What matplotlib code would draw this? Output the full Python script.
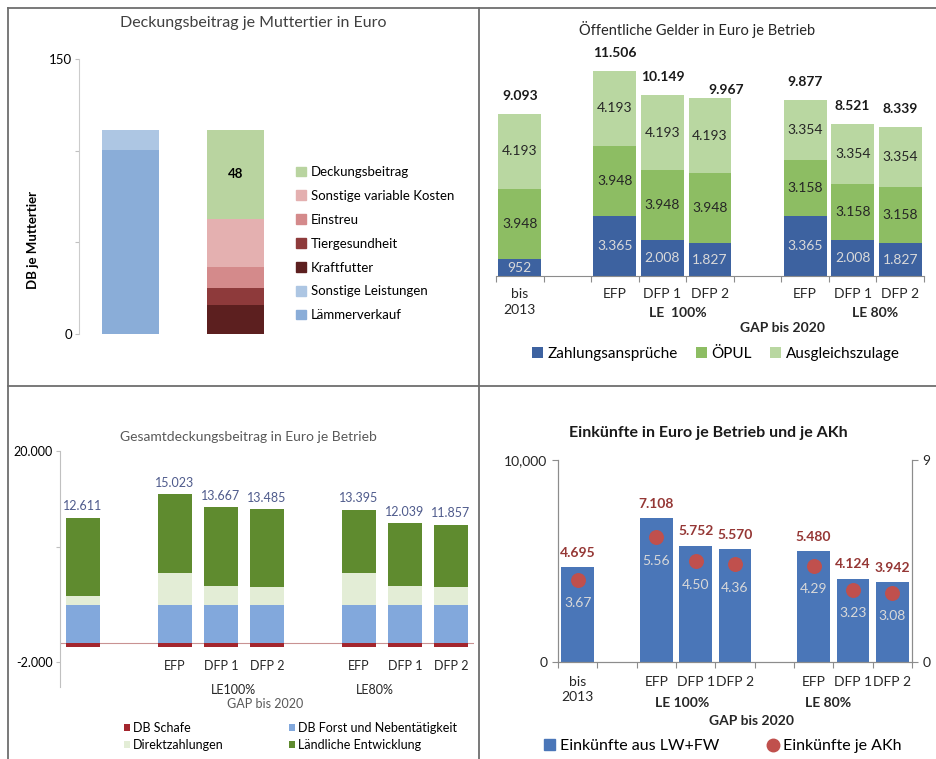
import numpy as np
import matplotlib.pyplot as plt
from matplotlib.patches import Patch
from matplotlib.lines import Line2D

plt.rcParams['font.family'] = ['Lato', 'DejaVu Sans']

W, H = 937, 759

# ---- Daten ----
# Panel 1: Deckungsbeitrag je Muttertier
db_bars = [0, 1]
laemmerverkauf = [100.5, 0]
sonstige_leistungen = [10.5, 0]
kraftfutter = [0, 16]
tiergesundheit = [0, 9]
einstreu = [0, 11.5]
sonstige_var_kosten = [0, 26.5]
deckungsbeitrag = [0, 48]

# Szenarien (gemeinsam für Panel 2-4)
slot_pos = [0, 2, 3, 4, 6, 7, 8]
slot_labels = ['bis\n2013', 'EFP', 'DFP 1', 'DFP 2', 'EFP', 'DFP 1', 'DFP 2']

# Panel 2: Öffentliche Gelder
zahlungsansprueche = [952, 3365, 2008, 1827, 3365, 2008, 1827]
oepul = [3948, 3948, 3948, 3948, 3158, 3158, 3158]
ausgleichszulage = [4193, 4193, 4193, 4193, 3354, 3354, 3354]
summe_oeff = [9093, 11506, 10149, 9967, 9877, 8521, 8339]

# Panel 3: Gesamtdeckungsbeitrag
db_schafe = [-450, -450, -450, -450, -450, -450, -450]
db_forst = [3968, 3968, 3968, 3968, 3968, 3968, 3968]
direktzahlungen = [952, 3365, 2008, 1827, 3365, 2008, 1827]
laendliche_entw = [8141, 8141, 8141, 8141, 6512, 6512, 6512]
gesamt_db = [12611, 15023, 13667, 13485, 13395, 12039, 11857]

# Panel 4: Einkünfte
einkuenfte = [4695, 7108, 5752, 5570, 5480, 4124, 3942]
einkuenfte_akh = [3.67, 5.56, 4.50, 4.36, 4.29, 3.23, 3.08]


def de(v):
    return f"{v:,}".replace(',', '.')


def box(x0, y0, x1, y1):
    return [x0 / W, 1 - y1 / H, (x1 - x0) / W, (y1 - y0) / H]


def ftext(x, y, s, **kw):
    kw.setdefault('ha', 'center')
    kw.setdefault('va', 'center')
    return fig.text(x / W, 1 - y / H, s, **kw)


fig = plt.figure(figsize=(W / 100, H / 100), dpi=100)

# Rahmenlinien
lc = '#6e6e6e'
for (x0, y0, x1, y1) in [(8, 8, 937, 8), (8, 8, 8, 759), (479, 8, 479, 759), (8, 386, 937, 386)]:
    fig.add_artist(Line2D([x0 / W, x1 / W], [1 - y0 / H, 1 - y1 / H], color=lc, lw=1.3))

# ================= Panel 1 =================
ax1 = fig.add_axes(box(79, 59, 290, 334))
series1 = [
    (laemmerverkauf, '#8aadd8', 'Lämmerverkauf'),
    (sonstige_leistungen, '#adc6e3', 'Sonstige Leistungen'),
    (kraftfutter, '#5c1f1f', 'Kraftfutter'),
    (tiergesundheit, '#8e3a3b', 'Tiergesundheit'),
    (einstreu, '#d48a8b', 'Einstreu'),
    (sonstige_var_kosten, '#e4b0b0', 'Sonstige variable Kosten'),
    (deckungsbeitrag, '#b9d4a0', 'Deckungsbeitrag'),
]
bottom = np.zeros(2)
handles1 = []
for vals, col, lab in series1:
    ax1.bar(db_bars, vals, 0.543, bottom=bottom, color=col, label=lab)
    bottom += np.array(vals)
    handles1.append(Patch(color=col, label=lab))
db_mid = bottom[1] - deckungsbeitrag[1] / 2
ax1.text(1, db_mid, str(deckungsbeitrag[1]), ha='center', va='center', fontsize=9.5, fontweight='bold')
ax1.set_xlim(-0.49, 1.519)
ax1.set_ylim(0, 150)
ax1.set_yticks([0, 50, 100, 150], ['0', '', '', '150'])
ax1.set_xticks([])
ax1.tick_params(axis='y', length=3, color='#c0c0c0', labelsize=9.5, pad=2)
for s in ['top', 'right', 'bottom']:
    ax1.spines[s].set_visible(False)
ax1.spines['left'].set_color('#cccccc')
handles1 = handles1[::-1]
ax1.legend(handles=handles1, loc='upper left', bbox_to_anchor=(296 / W, 1 - 166 / H),
           bbox_transform=fig.transFigure, frameon=False, fontsize=9.5,
           handlelength=0.75, handleheight=0.75, handletextpad=0.4, labelspacing=0.9,
           borderaxespad=0, borderpad=0)
ftext(253, 23, 'Deckungsbeitrag je Muttertier in Euro', fontsize=11.5, color='#404040')
ftext(33, 240, 'DB je Muttertier', rotation=90, fontsize=9.5, fontweight='bold')

# ================= Panel 2 =================
ax2 = fig.add_axes(box(496, 50, 924, 276))
b = np.zeros(len(slot_pos))
for vals, col, lab, tc in [(zahlungsansprueche, '#3d62a0', 'Zahlungsansprüche', '#d9d9d9'),
                           (oepul, '#8dbd63', 'ÖPUL', '#262626'),
                           (ausgleichszulage, '#b9d7a1', 'Ausgleichszulage', '#262626')]:
    ax2.bar(slot_pos, vals, 0.9, bottom=b, color=col, label=lab)
    for x, v, y0 in zip(slot_pos, vals, b):
        ax2.text(x, y0 + v / 2, de(v), ha='center', va='center', fontsize=10, color=tc)
    b += np.array(vals)
nudge2 = {3: (12, -7)}
for i, (x, top, tot) in enumerate(zip(slot_pos, b, summe_oeff)):
    dx, dy = nudge2.get(i, (0, 0))
    ax2.annotate(de(tot), (x, top), xytext=(dx, 13 + dy), textcoords='offset points',
                 ha='center', va='center', fontsize=10, fontweight='bold', color='#1a1a1a')
ax2.set_xlim(-0.5, 8.5)
ax2.set_ylim(0, 11506 * 226 / 205)
ax2.set_xticks(np.arange(-0.5, 9, 1), [''] * 10)
ax2.set_xticks(slot_pos, slot_labels, minor=True)
ax2.tick_params(axis='x', which='major', length=4, color='#8c8c8c')
ax2.tick_params(axis='x', which='minor', length=0, pad=9, labelsize=10, labelcolor='#262626')
for t in ax2.get_xticklabels(minor=True):
    t.set_linespacing(1.35)
ax2.set_yticks([])
for s in ['top', 'right', 'left']:
    ax2.spines[s].set_visible(False)
ax2.spines['bottom'].set_color('#8c8c8c')
ftext(678, 313, 'LE  100%', fontsize=10, fontweight='bold', color='#262626')
ftext(875, 313, 'LE 80%', fontsize=10, fontweight='bold', color='#262626')
ftext(783, 328, 'GAP bis 2020', fontsize=10, fontweight='bold', color='#262626')
ftext(697, 29, 'Öffentliche Gelder in Euro je Betrieb', fontsize=10.5, color='#262626')
ax2.legend(loc='center', bbox_to_anchor=(716 / W, 1 - 354 / H), bbox_transform=fig.transFigure,
           ncol=3, frameon=False, fontsize=11, handlelength=0.7, handleheight=0.7,
           handletextpad=0.3, columnspacing=1.2, borderpad=0)

# ================= Panel 3 =================
ax3 = fig.add_axes(box(60, 451, 474, 687))
ax3.bar(slot_pos, db_schafe, 0.72, color='#a3262e', label='DB Schafe')
b = np.zeros(len(slot_pos))
for vals, col, lab in [(db_forst, '#82a8dc', 'DB Forst und Nebentätigkeit'),
                       (direktzahlungen, '#e3edd6', 'Direktzahlungen'),
                       (laendliche_entw, '#5f8b2f', 'Ländliche Entwicklung')]:
    ax3.bar(slot_pos, vals, 0.72, bottom=b, color=col, label=lab)
    b += np.array(vals)
for x, top, tot in zip(slot_pos, b, gesamt_db):
    ax3.annotate(de(tot), (x, top), xytext=(0, 4), textcoords='offset points',
                 ha='center', va='bottom', fontsize=9, color='#4f5b8c')
ax3.axhline(0, color='#c99292', lw=0.8, zorder=0)
for x, lab in zip(slot_pos[1:], slot_labels[1:]):
    ax3.text(x, -2400, lab, ha='center', va='center', fontsize=9, color='#262626')
ax3.set_xlim(-0.5, 8.5)
ax3.set_ylim(-4600, 20000)
ax3.set_xticks([])
ax3.set_yticks([-2000, 10000, 20000], ['-2.000', '', '20.000'])
ax3.tick_params(axis='y', length=3, color='#c0c0c0', labelsize=9, pad=2)
for s in ['top', 'right', 'bottom']:
    ax3.spines[s].set_visible(False)
ax3.spines['left'].set_color('#c0c0c0')
ftext(233, 690, 'LE100%', fontsize=9, color='#262626')
ftext(375, 690, 'LE80%', fontsize=9, color='#262626')
ftext(265, 704, 'GAP bis 2020', fontsize=9, color='#595959')
ftext(248, 437, 'Gesamtdeckungsbeitrag in Euro je Betrieb', fontsize=10, color='#595959')
h3, l3 = ax3.get_legend_handles_labels()
order = [0, 2, 1, 3]
ax3.legend([h3[i] for i in order], [l3[i] for i in order], loc='upper left',
           bbox_to_anchor=(124 / W, 1 - 722 / H), bbox_transform=fig.transFigure,
           ncol=2, frameon=False, fontsize=9, handlelength=0.45, handleheight=0.45,
           handletextpad=0.3, columnspacing=5.2, labelspacing=0.4, borderpad=0, borderaxespad=0)

# ================= Panel 4 =================
ax4 = fig.add_axes(box(558, 460, 912, 662))
ax4.bar(slot_pos, einkuenfte, 0.83, color='#4a76b8', label='Einkünfte aus LW+FW')
for x, v in zip(slot_pos, einkuenfte):
    ax4.annotate(de(v), (x, v), xytext=(0, 6), textcoords='offset points',
                 ha='center', va='bottom', fontsize=10, fontweight='bold', color='#953735')
ax4.set_xlim(-0.5, 8.5)
ax4.set_ylim(0, 10000)
ax4.set_yticks([0, 10000], ['0', '10,000'])
ax4.set_xticks(np.arange(-0.5, 9, 1), [''] * 10)
ax4.set_xticks(slot_pos, slot_labels, minor=True)
ax4.tick_params(axis='x', which='major', length=4, color='#8c8c8c')
ax4.tick_params(axis='x', which='minor', length=0, pad=10, labelsize=10, labelcolor='#262626')
for t in ax4.get_xticklabels(minor=True):
    t.set_linespacing(1.3)
ax4.tick_params(axis='y', length=4, color='#8c8c8c', labelsize=10, labelcolor='#262626')
ax4r = ax4.twinx()
ax4r.scatter(slot_pos, einkuenfte_akh, s=95, color='#c0504d', zorder=3, label='Einkünfte je AKh')
for x, v in zip(slot_pos, einkuenfte_akh):
    ax4r.annotate(f"{v:.2f}", (x, v), xytext=(0, -17), textcoords='offset points',
                  ha='center', va='center', fontsize=10, color='#d9d9d9')
ax4r.set_ylim(0, 9)
ax4r.set_yticks([0, 9], ['0', '9'])
ax4r.tick_params(axis='y', length=4, color='#8c8c8c', labelsize=10, labelcolor='#262626')
for a in (ax4, ax4r):
    a.spines['top'].set_visible(False)
    for s in ['left', 'right', 'bottom']:
        a.spines[s].set_color('#8c8c8c')
ftext(682, 703, 'LE 100%', fontsize=10, fontweight='bold', color='#262626')
ftext(828, 703, 'LE 80%', fontsize=10, fontweight='bold', color='#262626')
ftext(752, 721, 'GAP bis 2020', fontsize=10, fontweight='bold', color='#262626')
ftext(708, 433, 'Einkünfte in Euro je Betrieb und je AKh', fontsize=11.5, fontweight='bold', color='#1a1a1a')
hb = Patch(color='#4a76b8', label='Einkünfte aus LW+FW')
hd = Line2D([], [], marker='o', ls='', color='#c0504d', markersize=9, label='Einkünfte je AKh')
ax4r.legend(handles=[hb, hd], loc='center', bbox_to_anchor=(723 / W, 1 - 746 / H),
            bbox_transform=fig.transFigure, ncol=2, frameon=False, fontsize=11.5,
            handlelength=0.7, handleheight=0.7, handletextpad=0.3, columnspacing=3.0, borderpad=0)

fig.savefig('out.png', dpi=100)
